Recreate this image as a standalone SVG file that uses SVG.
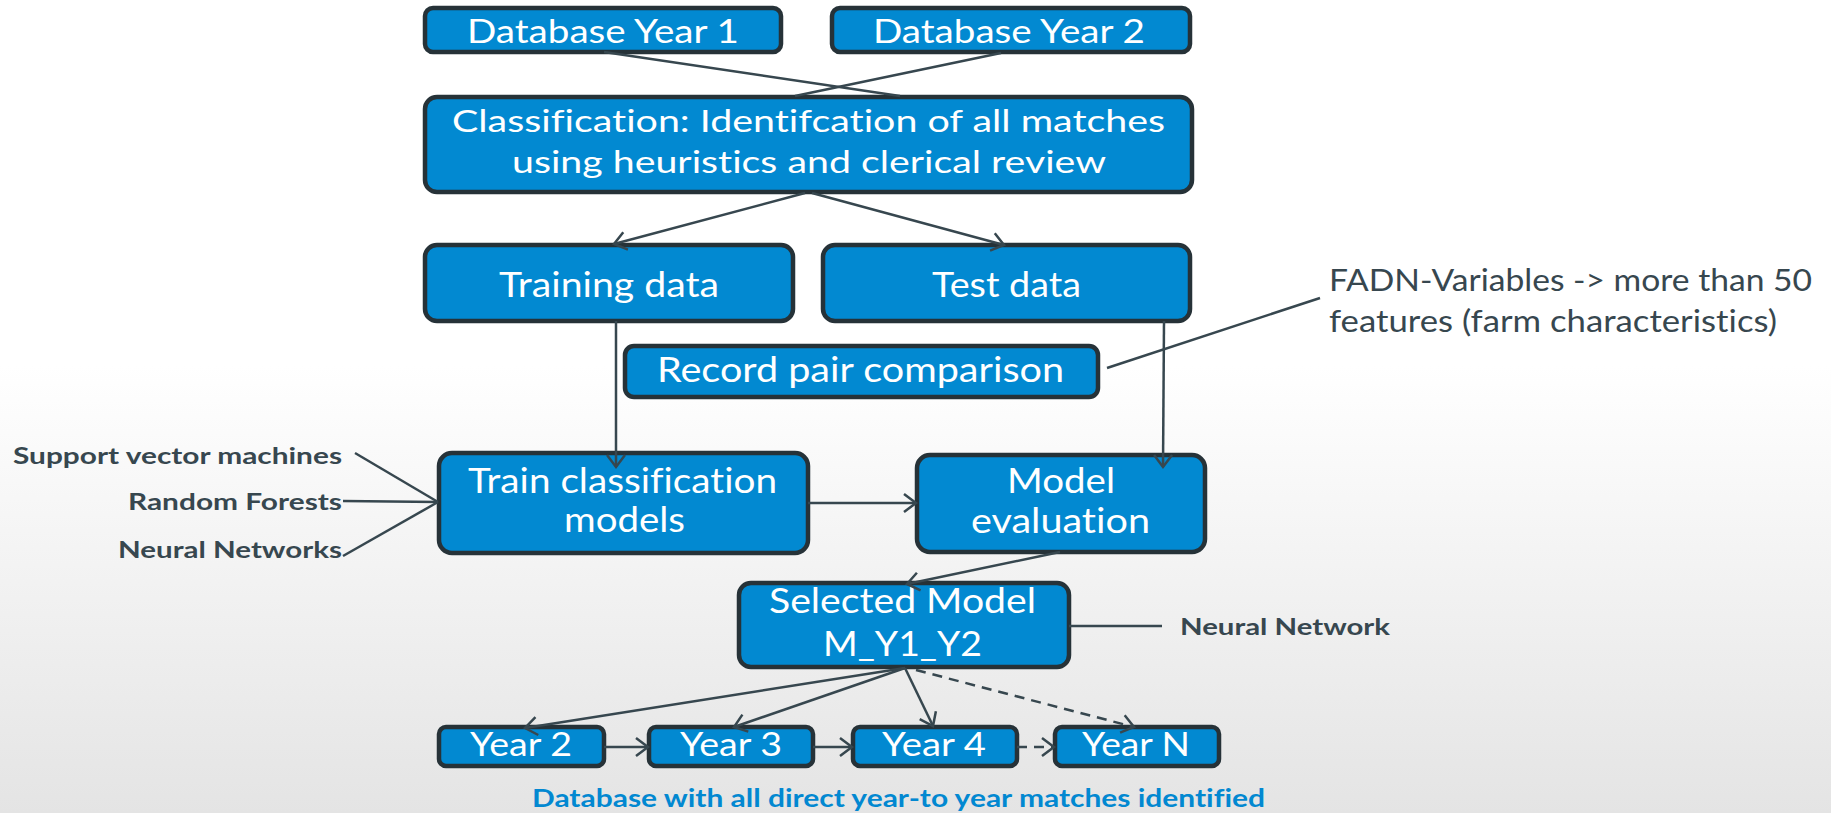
<svg xmlns="http://www.w3.org/2000/svg" width="1831" height="813" viewBox="0 0 1831 813">
<defs>
<linearGradient id="bg" x1="0" y1="0" x2="0" y2="1">
<stop offset="0" stop-color="#ffffff"/>
<stop offset="0.45" stop-color="#ffffff"/>
<stop offset="1" stop-color="#e4e4e4"/>
</linearGradient>
<marker id="arr" markerWidth="16" markerHeight="22" refX="13" refY="11" orient="auto" markerUnits="userSpaceOnUse">
<path d="M1,2 L13,11 L1,20" fill="none" stroke="#37474f" stroke-width="2.5"/>
</marker>
<style>
text{font-variant-ligatures:none;font-feature-settings:"liga" 0,"dlig" 0}
.box{fill:#0289d1;stroke:#263238;stroke-width:4.5}
.bt{font-family:Lato,"Open Sans",sans-serif;fill:#ffffff;text-anchor:middle}
.lbl{font-family:Lato,"Open Sans",sans-serif;fill:#37474f;font-weight:bold;font-size:22px}
.note{font-family:Lato,"Open Sans",sans-serif;fill:#37474f;font-size:31px}
.cap{font-family:Lato,"Open Sans",sans-serif;fill:#0288d1;font-weight:bold;font-size:24px}
.c{fill:none;stroke:#37474f;stroke-width:2.5}
.ca{fill:none;stroke:#37474f;stroke-width:2.5;marker-end:url(#arr)}
.cd{fill:none;stroke:#37474f;stroke-width:2.5;stroke-dasharray:10 7;marker-end:url(#arr)}
</style>
</defs>
<rect x="0" y="0" width="1831" height="813" fill="url(#bg)"/>

<g id="db1"><rect class="box" x="425" y="8" width="356" height="44" rx="8"/><text class="bt" x="603" y="43" font-size="32" textLength="272" lengthAdjust="spacingAndGlyphs">Database Year 1</text></g>
<g id="db2"><rect class="box" x="832" y="8" width="358" height="44" rx="8"/><text class="bt" x="1009" y="43" font-size="32" textLength="272" lengthAdjust="spacingAndGlyphs">Database Year 2</text></g>
<g id="classification"><rect class="box" x="425" y="97" width="767" height="95" rx="12"/><text class="bt" x="808.5" y="132" font-size="30" textLength="713" lengthAdjust="spacingAndGlyphs">Classification: Identifcation of all matches</text><text class="bt" x="809" y="173" font-size="30" textLength="594" lengthAdjust="spacingAndGlyphs">using heuristics and clerical review</text></g>
<g id="training"><rect class="box" x="425" y="245" width="368" height="76" rx="12"/><text class="bt" x="609" y="297" font-size="34" textLength="220" lengthAdjust="spacingAndGlyphs">Training data</text></g>
<g id="test"><rect class="box" x="823" y="245" width="367" height="76" rx="12"/><text class="bt" x="1006.5" y="297" font-size="34" textLength="149" lengthAdjust="spacingAndGlyphs">Test data</text></g>
<g id="record"><rect class="box" x="625" y="346" width="473" height="51" rx="9"/><text class="bt" x="860.5" y="382" font-size="34" textLength="407" lengthAdjust="spacingAndGlyphs">Record pair comparison</text></g>
<g id="fadn"><text class="note" x="1329" y="291" textLength="483" lengthAdjust="spacingAndGlyphs">FADN-Variables -&gt; more than 50</text><text class="note" x="1329" y="332" textLength="448" lengthAdjust="spacingAndGlyphs">features (farm characteristics)</text></g>
<g id="train"><rect class="box" x="439" y="453" width="369" height="100" rx="13"/><text class="bt" x="622.5" y="493" font-size="35" textLength="309" lengthAdjust="spacingAndGlyphs">Train classification</text><text class="bt" x="624.5" y="532" font-size="35" textLength="121" lengthAdjust="spacingAndGlyphs">models</text></g>
<g id="evaluation"><rect class="box" x="917" y="455" width="288" height="97" rx="13"/><text class="bt" x="1061" y="493" font-size="35" textLength="108" lengthAdjust="spacingAndGlyphs">Model</text><text class="bt" x="1060.5" y="533" font-size="35" textLength="179" lengthAdjust="spacingAndGlyphs">evaluation</text></g>
<g id="svm"><text class="lbl" x="342" y="464" text-anchor="end" textLength="329" lengthAdjust="spacingAndGlyphs">Support vector machines</text></g>
<g id="rf"><text class="lbl" x="342" y="510" text-anchor="end" textLength="214" lengthAdjust="spacingAndGlyphs">Random Forests</text></g>
<g id="nn"><text class="lbl" x="342" y="558" text-anchor="end" textLength="224" lengthAdjust="spacingAndGlyphs">Neural Networks</text></g>
<g id="selected"><rect class="box" x="739" y="583" width="330" height="84" rx="12"/><text class="bt" x="902.5" y="613" font-size="34" textLength="267" lengthAdjust="spacingAndGlyphs">Selected Model</text><text class="bt" x="902.5" y="656" font-size="34" textLength="159" lengthAdjust="spacingAndGlyphs">M_Y1_Y2</text></g>
<g id="neuralnetwork"><text class="lbl" x="1180" y="635" textLength="210" lengthAdjust="spacingAndGlyphs">Neural Network</text></g>
<g id="year2"><rect class="box" x="439" y="727" width="165" height="39" rx="7"/><text class="bt" x="521" y="756" font-size="32" textLength="102" lengthAdjust="spacingAndGlyphs">Year 2</text></g>
<g id="year3"><rect class="box" x="649" y="727" width="164" height="39" rx="7"/><text class="bt" x="731" y="756" font-size="32" textLength="102" lengthAdjust="spacingAndGlyphs">Year 3</text></g>
<g id="year4"><rect class="box" x="853" y="727" width="164" height="39" rx="7"/><text class="bt" x="934" y="756" font-size="32" textLength="104" lengthAdjust="spacingAndGlyphs">Year 4</text></g>
<g id="yearN"><rect class="box" x="1055" y="727" width="164" height="39" rx="7"/><text class="bt" x="1136" y="756" font-size="32" textLength="108" lengthAdjust="spacingAndGlyphs">Year N</text></g>
<g id="caption"><text class="cap" x="898.5" y="807" text-anchor="middle" textLength="733" lengthAdjust="spacingAndGlyphs">Database with all direct year-to year matches identified</text></g>

<g id="connectors">
<line class="c" x1="604" y1="52" x2="900" y2="96"/>
<line class="c" x1="1001" y1="53" x2="795" y2="96"/>
<line class="ca" x1="805" y1="193" x2="614" y2="244"/>
<line class="ca" x1="812" y1="193" x2="1004" y2="245"/>
<line class="ca" x1="616" y1="321" x2="616" y2="467"/>
<line class="ca" x1="1164" y1="321" x2="1163" y2="467"/>
<line class="c" x1="1107" y1="368" x2="1320" y2="298" stroke-width="2"/>
<line class="c" x1="355" y1="453" x2="438" y2="502" stroke-width="2"/>
<line class="c" x1="343" y1="501" x2="438" y2="502" stroke-width="2"/>
<line class="c" x1="343" y1="556" x2="438" y2="502" stroke-width="2"/>
<line class="ca" x1="808" y1="503" x2="916" y2="503"/>
<line class="ca" x1="1060" y1="552" x2="907" y2="584"/>
<line class="c" x1="1069" y1="626" x2="1162" y2="626"/>
<line class="ca" x1="905" y1="668" x2="525" y2="728"/>
<line class="ca" x1="905" y1="668" x2="734" y2="727"/>
<line class="ca" x1="905" y1="668" x2="933" y2="726"/>
<line class="cd" x1="916" y1="670" x2="1134" y2="727"/>
<line class="ca" x1="604" y1="747" x2="648" y2="747"/>
<line class="ca" x1="813" y1="747" x2="852" y2="747"/>
<line class="cd" x1="1017" y1="747" x2="1054" y2="747" stroke-dasharray="8 6"/>
</g>
</svg>
